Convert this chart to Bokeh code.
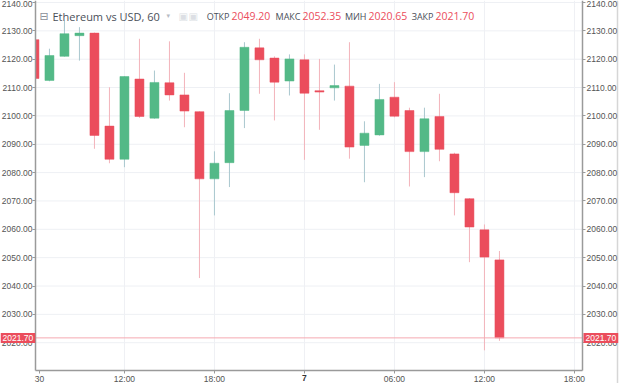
from bokeh.plotting import figure
from bokeh.models import (ColumnDataSource, LinearAxis, FixedTicker,
                          NumeralTickFormatter, Label, Range1d)
from bokeh.embed import file_html
from bokeh.resources import INLINE

# ---------------- data ----------------
hours = [6, 7, 8, 9, 10, 11, 12, 13, 14, 15, 16, 17, 18, 19, 20, 21,
         22, 23, 24, 25, 26, 27, 28, 29, 30, 31, 32, 33, 34, 35, 36, 37]
opens = [2126.9, 2112.5, 2121.0, 2128.3, 2129.2, 2096.4, 2084.7, 2113.0,
         2099.2, 2111.7, 2107.4, 2101.5, 2077.8, 2083.5, 2101.9, 2124.0,
         2120.4, 2112.3, 2119.8, 2108.9, 2109.9, 2110.5, 2089.6, 2093.3,
         2106.6, 2101.9, 2087.4, 2099.8, 2086.6, 2070.8, 2059.8, 2049.20]
highs = [2127.5, 2123.7, 2133.6, 2131.3, 2129.4, 2110.1, 2114.0, 2127.2,
         2116.0, 2126.3, 2115.2, 2101.6, 2087.5, 2108.0, 2126.0, 2127.2,
         2121.0, 2121.7, 2121.7, 2120.1, 2118.1, 2126.0, 2098.1, 2111.3,
         2111.9, 2102.9, 2102.9, 2107.8, 2087.0, 2071.0, 2061.7, 2052.35]
lows = [2112.8, 2112.2, 2120.9, 2119.5, 2088.4, 2083.3, 2081.9, 2099.3,
        2099.0, 2105.4, 2096.0, 2042.8, 2064.9, 2074.9, 2095.7, 2107.8,
        2098.4, 2107.2, 2084.5, 2095.1, 2105.4, 2084.9, 2076.6, 2093.0,
        2099.5, 2075.1, 2078.4, 2084.0, 2064.9, 2048.4, 2017.3, 2020.65]
closes = [2113.2, 2121.3, 2129.0, 2129.2, 2093.1, 2084.7, 2113.9, 2099.8,
          2111.8, 2107.4, 2101.7, 2077.8, 2083.3, 2101.9, 2124.2, 2119.8,
          2111.9, 2120.1, 2108.0, 2108.4, 2110.7, 2089.0, 2093.9, 2105.8,
          2099.9, 2087.4, 2099.0, 2088.2, 2072.9, 2060.8, 2050.2, 2021.70]

x_tick_pos = [6.33, 12, 18, 24, 30, 36, 42]
x_tick_labels = ["30", "12:00", "18:00", "7", "06:00", "12:00", "18:00"]
x_grid_pos = [12, 18, 24, 30, 36, 42]
y_ticks = [2020, 2030, 2040, 2050, 2060, 2070, 2080, 2090,
           2100, 2110, 2120, 2130, 2140]
title_text = "Ethereum vs USD, 60"
ohlc_names = ["ОТКР", "МАКС", "МИН", "ЗАКР"]
last_price = closes[-1]

# ---------------- styling / layout ----------------
UP = "#53b987"
DOWN = "#eb4d5c"
UP_WICK = "#a9c7cf"
DOWN_WICK = "#f3b3ba"
GRID = "#eef0f4"
AXIS = "#9a9a9a"
AX_FONT = "Liberation Sans"
HDR_FONT = "Open Sans"

W, H = 620, 383
SX = 15.0        # px per hour
SY = 2.835       # px per price unit
XL = 6.07 - 35 / SX          # x value at canvas left edge
YT = 2140.0 + 2 / SY         # y value at canvas top edge
FL, FR, FB = 35, 582, 370    # inner chart box (px)


def px_x(px):
    return XL + px / SX


def px_y(py):
    return YT - py / SY


up = [c >= o for o, c in zip(opens, closes)]
src = ColumnDataSource(dict(
    x=hours,
    high=highs,
    low=lows,
    top=[max(o, c) for o, c in zip(opens, closes)],
    bottom=[min(o, c) for o, c in zip(opens, closes)],
    color=[UP if u else DOWN for u in up],
    wick=[UP_WICK if u else DOWN_WICK for u in up],
))

p = figure(width=W, height=H, output_backend="svg", toolbar_location=None,
           x_range=Range1d(px_x(0), px_x(W)), y_range=Range1d(px_y(H), px_y(0)),
           min_border=0, min_border_left=0, min_border_right=0,
           min_border_top=0, min_border_bottom=0,
           background_fill_color="white", border_fill_color="white",
           outline_line_color=None, x_axis_location=None, y_axis_location=None)
p.xgrid.visible = False
p.ygrid.visible = False

# grid lines inside the chart box
p.segment(x0=[px_x(FL)] * len(y_ticks), x1=[px_x(FR)] * len(y_ticks),
          y0=y_ticks, y1=y_ticks, line_color=GRID, line_width=1)
p.segment(x0=x_grid_pos, x1=x_grid_pos,
          y0=[px_y(FB)] * len(x_grid_pos), y1=[px_y(0)] * len(x_grid_pos),
          line_color=GRID, line_width=1)

# candles
p.segment(x0="x", x1="x", y0="low", y1="high", source=src,
          line_color="wick", line_width=1)
p.vbar(x="x", width=0.6, top="top", bottom="bottom", source=src,
       fill_color="color", line_color="color", line_width=0.5)

# white cover left of the price area (candle cut by axis)
p.quad(left=px_x(0), right=px_x(FL - 0.5), bottom=px_y(H), top=px_y(0),
       fill_color="white", line_color=None)

# last price line
p.segment(x0=px_x(FL), x1=px_x(FR), y0=last_price, y1=last_price,
          line_color="#f5a9b1", line_width=1)

# right window border
p.segment(x0=px_x(617), x1=px_x(617), y0=px_y(H), y1=px_y(0),
          line_color="#d6d6d6", line_width=1.5)

# axes (placed at fixed locations inside the canvas)
fmt = NumeralTickFormatter(format="0.00")
ytick = FixedTicker(ticks=y_ticks)
left_ax = LinearAxis(ticker=ytick, formatter=fmt, fixed_location=px_x(FL),
                     bounds=(px_y(FB), px_y(0)))
right_ax = LinearAxis(ticker=ytick, formatter=fmt, fixed_location=px_x(FR),
                      bounds=(px_y(FB), px_y(0)))
bottom_ax = LinearAxis(ticker=FixedTicker(ticks=x_tick_pos),
                       fixed_location=px_y(FB),
                       bounds=(px_x(FL), px_x(FR)))
bottom_ax.major_label_overrides = {k: (v if v != "7" else "")
                                   for k, v in zip(x_tick_pos, x_tick_labels)}
p.add_layout(left_ax, "left")
p.add_layout(right_ax, "right")
p.add_layout(bottom_ax, "below")

for ax in [left_ax, right_ax, bottom_ax]:
    ax.axis_line_color = AXIS
    ax.axis_line_width = 1.5
    ax.major_tick_line_color = AXIS
    ax.major_tick_out = 3
    ax.major_tick_in = 0
    ax.minor_tick_line_color = None
    ax.major_label_text_font = AX_FONT
    ax.major_label_text_font_size = "8.5px"
    ax.major_label_text_color = "#555555"
left_ax.major_label_standoff = 0
right_ax.major_label_standoff = 1
bottom_ax.major_label_standoff = 0

# bold day label "7"
p.add_layout(Label(x=x_tick_pos[3], y=px_y(377.5), text=x_tick_labels[3],
                   text_font=AX_FONT, text_font_size="8.5px",
                   text_font_style="bold", text_color="#333333",
                   text_align="center", text_baseline="middle"))

# price tags
for xp in [0, 583]:
    p.add_layout(Label(x=px_x(xp), y=last_price, text=f"{last_price:.2f}",
                       text_font=AX_FONT, text_font_size="8.5px",
                       text_color="white", text_align="left",
                       text_baseline="middle", background_fill_color=DOWN,
                       padding=2, level="overlay"))

# header
hy = px_y(15.5)
p.add_layout(Label(x=px_x(39), y=hy, text="⊟", text_font="DejaVu Sans",
                   text_font_size="11px", text_color="#8a8f99",
                   text_align="left", text_baseline="middle"))
p.add_layout(Label(x=px_x(52), y=hy, text=title_text, text_font=HDR_FONT,
                   text_font_size="11px", text_color="#4a4f59",
                   text_align="left", text_baseline="middle"))
p.add_layout(Label(x=px_x(166), y=hy, text="▾", text_font="DejaVu Sans",
                   text_font_size="7px", text_color="#b8bcc4",
                   text_align="left", text_baseline="middle"))
for bx in [178, 188]:
    p.add_layout(Label(x=px_x(bx), y=hy, text="▣", text_font="DejaVu Sans",
                       text_font_size="10px", text_color="#dcdfe4",
                       text_align="left", text_baseline="middle"))
vals = [opens[-1], highs[-1], lows[-1], closes[-1]]
val_px = [231, 302, 368, 435]
for nm, v, vx in zip(ohlc_names, vals, val_px):
    p.add_layout(Label(x=px_x(vx - 2), y=hy, text=nm, text_font=HDR_FONT,
                       text_font_size="9px", text_color="#4a4f59",
                       text_align="right", text_baseline="middle"))
    p.add_layout(Label(x=px_x(vx), y=hy, text=f"{v:.2f}", text_font=HDR_FONT,
                       text_font_size="10.5px", text_color=DOWN,
                       text_align="left", text_baseline="middle"))

open("out.html", "w").write(file_html(p, INLINE))
